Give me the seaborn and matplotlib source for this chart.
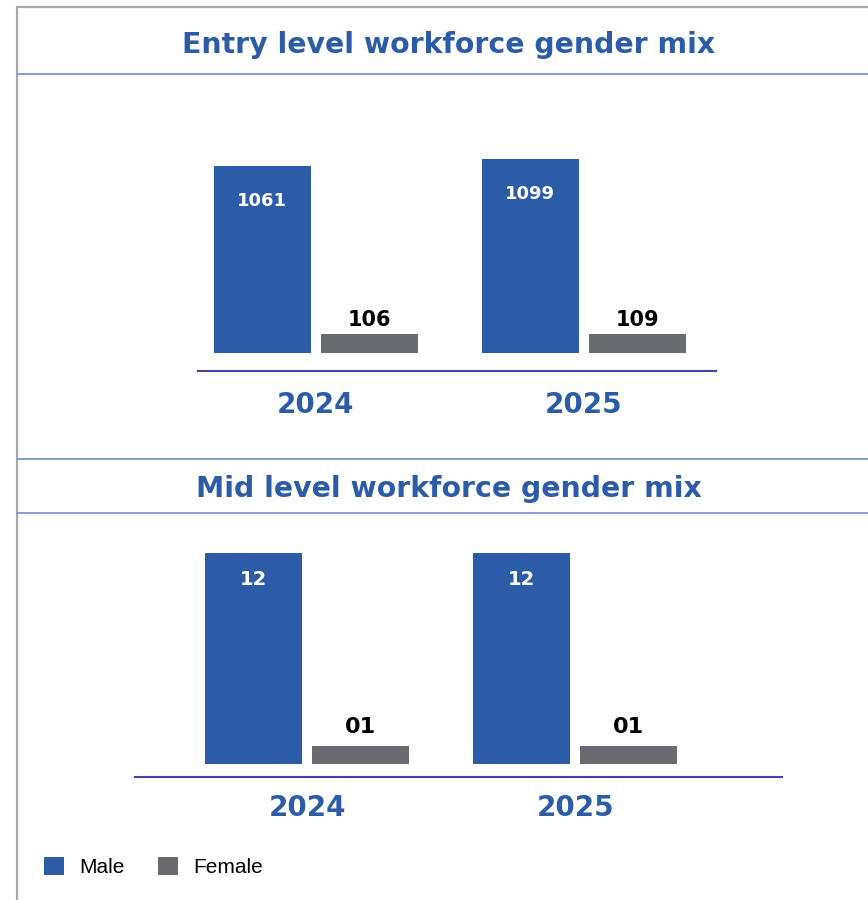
import matplotlib
matplotlib.use("Agg")
import matplotlib.pyplot as plt
import seaborn as sns
import pandas as pd
from matplotlib.patches import Patch
from matplotlib.lines import Line2D

# ---- data ----
years = ["2024", "2025"]
genders = ["Male", "Female"]
entry_male = [1061, 1099]
entry_female = [106, 109]
entry_male_labels = ["1061", "1099"]
entry_female_labels = ["106", "109"]
mid_male = [12, 12]
mid_female = [1, 1]
mid_male_labels = ["12", "12"]
mid_female_labels = ["01", "01"]
titles = ["Entry level workforce gender mix", "Mid level workforce gender mix"]

BLUE = "#2C5CA7"
GRAY = "#696B70"
TITLE_BLUE = "#2C5CA7"
SEP = "#809FD2"
AXIS = "#4444AA"
BORDER = "#A8A8A8"

sns.set_theme(style="white")
plt.rcParams["font.family"] = ["DejaVu Sans"]

W, H = 868, 900
fig = plt.figure(figsize=(W / 100, H / 100), dpi=100)
fig.patch.set_facecolor("white")


def fx(px):
    return px / W


def fy(py):
    return 1 - py / H


# frame lines
fig.add_artist(Line2D([fx(17), fx(17)], [fy(7), fy(900)], color=BORDER, lw=1.6))
fig.add_artist(Line2D([fx(17), fx(868)], [fy(7), fy(7)], color=BORDER, lw=1.6))
for yy in (74, 459, 513):
    fig.add_artist(Line2D([fx(17), fx(868)], [fy(yy), fy(yy)], color=SEP, lw=1.4))

# titles
fig.text(fx(449), fy(53), titles[0], ha="center", va="baseline",
         color=TITLE_BLUE, fontsize=20.4, fontweight="bold")
fig.text(fx(449), fy(497), titles[1], ha="center", va="baseline",
         color=TITLE_BLUE, fontsize=20.4, fontweight="bold")


def make_df(male, female):
    return pd.DataFrame({
        "Year": years * 2,
        "Gender": ["Male"] * 2 + ["Female"] * 2,
        "Count": list(male) + list(female),
    })


def panel(rect_px, xlim, ylim, male, female, mlabels, flabels,
          m_off, f_off, m_fs, f_fs, tick_pad):
    l, t, r, b = rect_px
    ax = fig.add_axes([fx(l), fy(b), (r - l) / W, (b - t) / H])
    df = make_df(male, female)
    sns.barplot(data=df, x="Year", y="Count", hue="Gender", order=years,
                hue_order=genders, palette=[BLUE, GRAY], width=0.7985,
                gap=0.093, legend=False, ax=ax, saturation=1, errorbar=None,
                linewidth=0)
    ax.set_xlim(*xlim)
    ax.set_ylim(*ylim)
    ax.set_xlabel("")
    ax.set_ylabel("")
    ax.set_yticks([])
    for s in ("left", "right", "top"):
        ax.spines[s].set_visible(False)
    ax.spines["bottom"].set_color(AXIS)
    ax.spines["bottom"].set_linewidth(1.5)
    ax.spines["bottom"].set_position(("data", ylim[0]))
    ax.tick_params(axis="x", length=0, pad=tick_pad, labelsize=20,
                   labelcolor=TITLE_BLUE)
    for lab in ax.get_xticklabels():
        lab.set_fontweight("bold")
    ax.patch.set_alpha(0)
    bars = ax.patches
    nb = len(years)
    for i, p in enumerate(bars[:nb]):
        ax.annotate(mlabels[i], (p.get_x() + p.get_width() / 2, p.get_height()),
                    xytext=(0, m_off), textcoords="offset pixels",
                    ha="center", va="center", color="white",
                    fontsize=m_fs, fontweight="bold")
    for i, p in enumerate(bars[nb:2 * nb]):
        ax.annotate(flabels[i], (p.get_x() + p.get_width() / 2, p.get_height()),
                    xytext=(0, f_off), textcoords="offset pixels",
                    ha="center", va="center", color="black",
                    fontsize=f_fs, fontweight="bold")
    return ax


panel((198, 100, 716, 371), (-0.440, 1.493), (-102, 1435),
      entry_male, entry_female, entry_male_labels, entry_female_labels,
      -35, 14, 13, 15, 14.5)
panel((135, 530, 782, 777), (-0.642, 1.772), (-0.74, 13.31),
      mid_male, mid_female, mid_male_labels, mid_female_labels,
      -26, 19, 14, 16, 12.5)

# legend
handles = [Patch(facecolor=BLUE, edgecolor="none"),
           Patch(facecolor=GRAY, edgecolor="none")]
leg = fig.legend(handles, genders, loc="center left",
                 bbox_to_anchor=(fx(44), fy(867)), frameon=False, ncol=2,
                 handlelength=0.95, handleheight=1.0, handletextpad=0.75,
                 columnspacing=1.6, borderpad=0, borderaxespad=0,
                 prop={"family": "Liberation Sans", "size": 15})
for t in leg.get_texts():
    t.set_color("black")

fig.savefig("out.png", dpi=100, facecolor="white")
